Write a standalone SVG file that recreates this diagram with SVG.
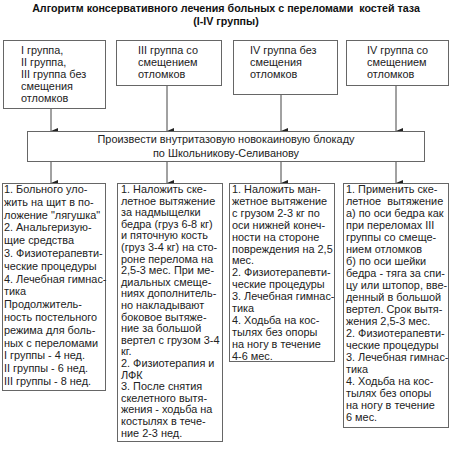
<svg xmlns="http://www.w3.org/2000/svg" width="450" height="454" viewBox="0 0 450 454">
<defs>
<marker id="ah" markerWidth="6" markerHeight="7" refX="3" refY="7" orient="auto-start-reverse" markerUnits="userSpaceOnUse" viewBox="0 0 6 7">
<path d="M0,0 L6,0 L3,7 Z" fill="#222"/>
</marker>
</defs>
<style>
.box{fill:#fff;stroke:#666;stroke-width:1}
.t{font-family:"Liberation Sans",Arial,sans-serif;font-size:10.9px;fill:#222;white-space:pre}
.title{font-family:"Liberation Sans",Arial,sans-serif;font-size:10.7px;font-weight:bold;fill:#111;text-anchor:middle;white-space:pre}
.c{fill:none;stroke:#444;stroke-width:1}
</style>
<rect width="450" height="454" fill="#fff"/>
<g id="title">
<text class="title" x="226" y="12">Алгоритм консервативного лечения больных с переломами  костей таза</text>
<text class="title" x="226" y="25">(I-IV группы)</text>
</g>
<g id="connectors">
<line class="c" x1="51" y1="109" x2="51" y2="131" marker-end="url(#ah)"/>
<line class="c" x1="167" y1="86" x2="167" y2="131" marker-end="url(#ah)"/>
<line class="c" x1="281" y1="95" x2="281" y2="131" marker-end="url(#ah)"/>
<line class="c" x1="396" y1="86" x2="396" y2="131" marker-end="url(#ah)"/>
<line class="c" x1="51" y1="161" x2="51" y2="183" marker-end="url(#ah)"/>
<line class="c" x1="167" y1="161" x2="167" y2="183" marker-end="url(#ah)"/>
<line class="c" x1="281" y1="161" x2="281" y2="183" marker-end="url(#ah)"/>
<line class="c" x1="396" y1="161" x2="396" y2="183" marker-end="url(#ah)"/>
</g>
<g id="g1">
<rect class="box" x="3.5" y="40.5" width="102" height="68"/>
<text class="t" x="21" y="54"><tspan x="21">I группа,</tspan><tspan x="21" dy="12">II группа,</tspan><tspan x="21" dy="12">III группа без</tspan><tspan x="21" dy="12">смещения</tspan><tspan x="21" dy="12">отломков</tspan></text>
</g>
<g id="g3d">
<rect class="box" x="116.5" y="40.5" width="105" height="45"/>
<text class="t" x="138" y="54"><tspan x="138">III группа со</tspan><tspan x="138" dy="12">смещением</tspan><tspan x="138" dy="12">отломков</tspan></text>
</g>
<g id="g4n">
<rect class="box" x="233.5" y="40.5" width="104" height="54"/>
<text class="t" x="250" y="54"><tspan x="250">IV группа без</tspan><tspan x="250" dy="12">смещения</tspan><tspan x="250" dy="12">отломков</tspan></text>
</g>
<g id="g4d">
<rect class="box" x="346.5" y="40.5" width="102" height="45"/>
<text class="t" x="367" y="54"><tspan x="367">IV группа со</tspan><tspan x="367" dy="12">смещением</tspan><tspan x="367" dy="12">отломков</tspan></text>
</g>
<g id="block">
<rect class="box" x="27.5" y="131.5" width="397" height="30"/>
<text class="t" x="226" y="143" text-anchor="middle"><tspan x="226">Произвести внутритазовую новокаиновую блокаду</tspan><tspan x="226" dy="13.5">по Школьникову-Селиванову</tspan></text>
</g>
<g id="t1">
<rect class="box" x="2.5" y="183.5" width="103" height="207"/>
<text class="t" x="4" y="193"><tspan x="4">1. Больного уло-</tspan><tspan x="4" dy="12.8">жить на щит в по-</tspan><tspan x="4" dy="12.8">ложение "лягушка"</tspan><tspan x="4" dy="12.8">2. Анальгеризую-</tspan><tspan x="4" dy="12.8">щие средства</tspan><tspan x="4" dy="12.8">3. Физиотерапевти-</tspan><tspan x="4" dy="12.8">ческие процедуры</tspan><tspan x="4" dy="12.8">4. Лечебная гимнас-</tspan><tspan x="4" dy="12.8">тика</tspan><tspan x="4" dy="12.8">Продолжитель-</tspan><tspan x="4" dy="12.8">ность постельного</tspan><tspan x="4" dy="12.8">режима для боль-</tspan><tspan x="4" dy="12.8">ных с переломами</tspan><tspan x="4" dy="12.8">I группы - 4 нед.</tspan><tspan x="4" dy="12.8">II группы - 6 нед.</tspan><tspan x="4" dy="12.8">III группы - 8 нед.</tspan></text>
</g>
<g id="t2">
<rect class="box" x="117.5" y="183.5" width="105" height="258"/>
<text class="t" x="121" y="193"><tspan x="121">1. Наложить ске-</tspan><tspan x="121" dy="11.6">летное вытяжение</tspan><tspan x="121" dy="11.6">за надмыщелки</tspan><tspan x="121" dy="11.6">бедра (груз 6-8 кг)</tspan><tspan x="121" dy="11.6">и пяточную кость</tspan><tspan x="121" dy="11.6">(груз 3-4 кг) на сто-</tspan><tspan x="121" dy="11.6">роне перелома на</tspan><tspan x="121" dy="11.6">2,5-3 мес. При ме-</tspan><tspan x="121" dy="11.6">диальных смеще-</tspan><tspan x="121" dy="11.6">ниях дополнитель-</tspan><tspan x="121" dy="11.6">но накладывают</tspan><tspan x="121" dy="11.6">боковое вытяже-</tspan><tspan x="121" dy="11.6">ние за большой</tspan><tspan x="121" dy="11.6">вертел с грузом 3-4</tspan><tspan x="121" dy="11.6">кг.</tspan><tspan x="121" dy="11.6">2. Физиотерапия и</tspan><tspan x="121" dy="11.6">ЛФК</tspan><tspan x="121" dy="11.6">3. После снятия</tspan><tspan x="121" dy="11.6">скелетного вытя-</tspan><tspan x="121" dy="11.6">жения - ходьба на</tspan><tspan x="121" dy="11.6">костылях в тече-</tspan><tspan x="121" dy="11.6">ние 2-3 нед.</tspan></text>
</g>
<g id="t3">
<rect class="box" x="229.5" y="183.5" width="105" height="178"/>
<text class="t" x="232" y="193"><tspan x="232">1. Наложить ман-</tspan><tspan x="232" dy="11.9">жетное вытяжение</tspan><tspan x="232" dy="11.9">с грузом 2-3 кг по</tspan><tspan x="232" dy="11.9">оси нижней конеч-</tspan><tspan x="232" dy="11.9">ности на стороне</tspan><tspan x="232" dy="11.9">повреждения на 2,5</tspan><tspan x="232" dy="11.9">мес.</tspan><tspan x="232" dy="11.9">2. Физиотерапевти-</tspan><tspan x="232" dy="11.9">ческие процедуры</tspan><tspan x="232" dy="11.9">3. Лечебная гимнас-</tspan><tspan x="232" dy="11.9">тика</tspan><tspan x="232" dy="11.9">4. Ходьба на кос-</tspan><tspan x="232" dy="11.9">тылях без опоры</tspan><tspan x="232" dy="11.9">на ногу в течение</tspan><tspan x="232" dy="11.9">4-6 мес.</tspan></text>
</g>
<g id="t4">
<rect class="box" x="343.5" y="183.5" width="105" height="244"/>
<text class="t" x="346" y="193"><tspan x="346">1. Применить ске-</tspan><tspan x="346" dy="12">летное  вытяжение</tspan><tspan x="346" dy="12">а) по оси бедра как</tspan><tspan x="346" dy="12">при переломах III</tspan><tspan x="346" dy="12">группы со смеще-</tspan><tspan x="346" dy="12">нием отломков</tspan><tspan x="346" dy="12">б) по оси шейки</tspan><tspan x="346" dy="12">бедра - тяга за спи-</tspan><tspan x="346" dy="12">цу или штопор, вве-</tspan><tspan x="346" dy="12">денный в большой</tspan><tspan x="346" dy="12">вертел. Срок вытя-</tspan><tspan x="346" dy="12">жения 2,5-3 мес.</tspan><tspan x="346" dy="12">2. Физиотерапевти-</tspan><tspan x="346" dy="12">ческие процедуры</tspan><tspan x="346" dy="12">3. Лечебная гимнас-</tspan><tspan x="346" dy="12">тика</tspan><tspan x="346" dy="12">4. Ходьба на кос-</tspan><tspan x="346" dy="12">тылях без опоры</tspan><tspan x="346" dy="12">на ногу в течение</tspan><tspan x="346" dy="12">6 мес.</tspan></text>
</g>
</svg>
